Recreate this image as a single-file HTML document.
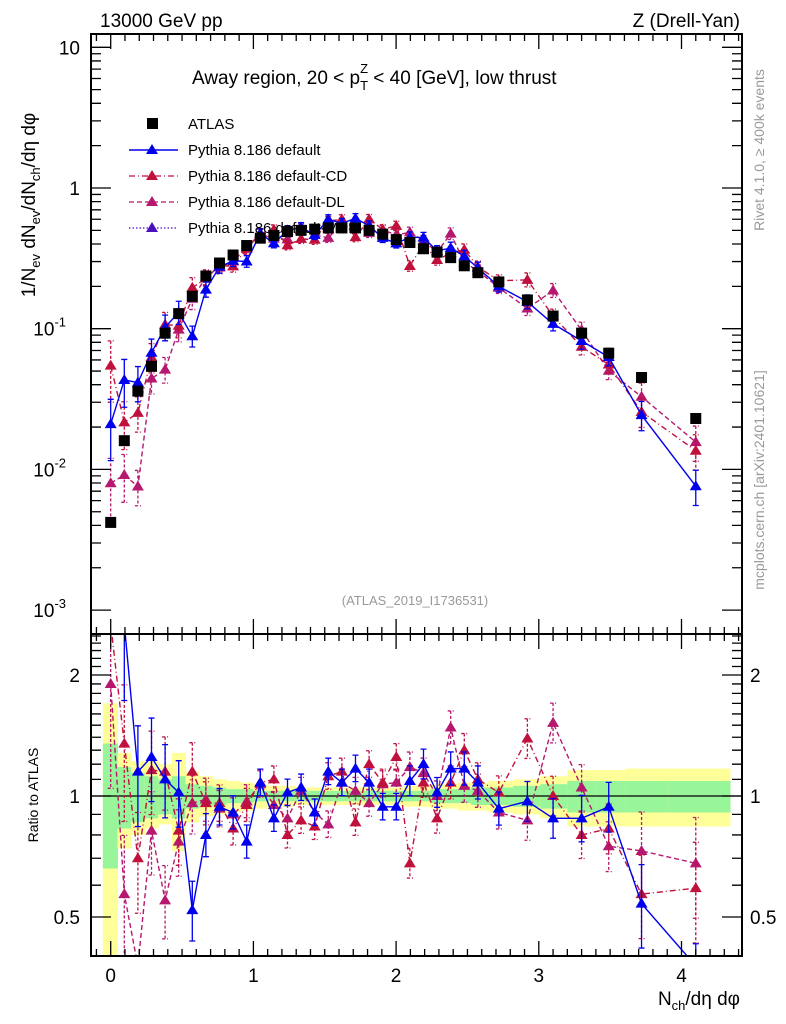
<!DOCTYPE html>
<html><head><meta charset="utf-8"><style>
html,body{margin:0;padding:0;background:#fff;overflow:hidden;width:786px;height:1024px}
svg{font-family:"Liberation Sans",sans-serif;display:block}
</style></head><body>
<svg id="chart" width="786" height="1024" viewBox="0 0 786 1024" xmlns="http://www.w3.org/2000/svg">
<defs>
<clipPath id="cm"><rect x="91" y="34" width="651" height="600"/></clipPath>
<clipPath id="cr"><rect x="91" y="634" width="651" height="322"/></clipPath>
</defs>
<g id="bands" clip-path="url(#cr)"></g>
<g id="ratio" clip-path="url(#cr)"></g>
<g id="main" clip-path="url(#cm)"></g>
<g id="axes"></g>
<text x="100" y="27" font-size="19">13000 GeV pp</text>
<text x="740" y="27" font-size="19" text-anchor="end">Z (Drell-Yan)</text>
<text x="192" y="84" font-size="19">Away region, 20 &lt; p<tspan font-size="13" dy="6">T</tspan><tspan font-size="13" dx="-8" dy="-17">Z</tspan><tspan dy="11"> &lt; 40 [GeV], low thrust</tspan></text>
<g font-size="15">
<rect x="147" y="118" width="11" height="11" fill="#000"/>
<text x="188" y="129">ATLAS</text>
<line x1="129" y1="150" x2="178" y2="150" stroke="#0000ee" stroke-width="1.5"/><path d="M152,144 l6,10 h-12z" fill="#0000ee"/>
<text x="188" y="155">Pythia 8.186 default</text>
<line x1="129" y1="176" x2="178" y2="176" stroke="#c0103c" stroke-width="1.3" stroke-dasharray="6,3,1,3"/><path d="M152,170 l6,10 h-12z" fill="#c0103c"/>
<text x="188" y="181">Pythia 8.186 default-CD</text>
<line x1="129" y1="202" x2="178" y2="202" stroke="#b5186e" stroke-width="1.3" stroke-dasharray="5,3"/><path d="M152,196 l6,10 h-12z" fill="#b5186e"/>
<text x="188" y="207">Pythia 8.186 default-DL</text>
<line x1="129" y1="228" x2="178" y2="228" stroke="#4a10c0" stroke-width="1.3" stroke-dasharray="1.5,2"/><path d="M152,222 l6,10 h-12z" fill="#4a10c0"/>
<text x="188" y="233">Pythia 8.186 default-MBR</text>
</g>
<text x="415" y="605" font-size="13" fill="#999" text-anchor="middle">(ATLAS_2019_I1736531)</text>
<text transform="translate(764,150) rotate(-90)" font-size="14" fill="#999" text-anchor="middle">Rivet 4.1.0, ≥ 400k events</text>
<text transform="translate(764,480) rotate(-90)" font-size="14" fill="#999" text-anchor="middle">mcplots.cern.ch [arXiv:2401.10621]</text>
<text transform="translate(35,205) rotate(-90)" font-size="19" text-anchor="middle">1/N<tspan font-size="13" dy="5">ev</tspan><tspan dy="-5"> dN</tspan><tspan font-size="13" dy="5">ev</tspan><tspan dy="-5">/dN</tspan><tspan font-size="13" dy="5">ch</tspan><tspan dy="-5">/dη dφ</tspan></text>
<text transform="translate(38,795) rotate(-90)" font-size="14" text-anchor="middle">Ratio to ATLAS</text>
<text x="740" y="1005" font-size="19" text-anchor="end">N<tspan font-size="13" dy="5">ch</tspan><tspan dy="-5">/dη dφ</tspan></text>
</svg>
<script>
const xs=[0,0.0953,0.1906,0.2859,0.3812,0.4765,0.5718,0.6671,0.7624,0.8577,0.953,1.0483,1.1436,1.2389,1.3342,1.4295,1.5248,1.6201,1.7154,1.8107,1.906,2.0013,2.0966,2.1919,2.2872,2.3825,2.4778,2.5731,2.72,2.92,3.1,3.3,3.49,3.72,4.1];
const atlas=[0.0042,0.016,0.036,0.054,0.093,0.128,0.17,0.237,0.293,0.334,0.39,0.44,0.46,0.49,0.5,0.51,0.52,0.52,0.52,0.5,0.47,0.43,0.41,0.37,0.35,0.32,0.28,0.25,0.215,0.16,0.123,0.093,0.067,0.045,0.023];
const ratioDefault=[5,2.7,1.15,1.25,1.1,1.02,0.52,0.8,0.94,0.91,0.77,1.08,0.88,1.02,1.05,0.91,1.15,1.08,1.17,1.08,0.94,0.94,1.09,1.2,1.02,1.17,1.17,1.08,0.93,0.97,0.88,0.88,0.94,0.54,0.33];
const ratioCD=[13,1.35,0.7,1.16,1.15,0.82,1.15,0.96,0.96,0.83,0.95,1.08,1.1,0.8,0.87,0.84,1.12,1.15,0.86,1.2,1.08,1.25,0.68,1.08,0.88,1.08,1.3,1.1,1.02,1.39,1.0,0.8,0.83,0.57,0.59];
const ratioDL=[1.9,0.57,0.21,0.82,0.55,0.77,0.96,0.98,0.93,0.9,0.97,1.07,0.95,0.88,1.03,0.91,0.85,1.08,1.03,0.96,1.07,1.08,1.18,1.14,1.0,1.48,1.06,1.03,0.91,0.87,1.52,1.05,0.75,0.73,0.68];
const mcErr=[0.5,0.4,0.3,0.25,0.22,0.2,0.18,0.13,0.11,0.1,0.1,0.08,0.08,0.08,0.08,0.08,0.08,0.08,0.08,0.08,0.08,0.08,0.09,0.09,0.09,0.1,0.1,0.1,0.1,0.12,0.12,0.14,0.15,0.25,0.3];
const yelHi=[1.7,1.28,1.22,1.22,1.2,1.28,1.15,1.12,1.1,1.09,1.08,1.07,1.06,1.06,1.05,1.05,1.05,1.05,1.05,1.05,1.05,1.05,1.06,1.06,1.07,1.07,1.08,1.08,1.09,1.1,1.12,1.16,1.16,1.17,1.17];
const yelLo=[0.3,0.74,0.8,0.83,0.85,0.73,0.86,0.89,0.9,0.91,0.92,0.93,0.94,0.94,0.95,0.95,0.95,0.95,0.95,0.95,0.95,0.95,0.94,0.94,0.93,0.93,0.92,0.92,0.91,0.9,0.88,0.84,0.84,0.84,0.84];
const grnHi=[1.35,1.18,1.14,1.12,1.1,1.12,1.07,1.06,1.05,1.04,1.04,1.03,1.03,1.03,1.03,1.03,1.03,1.03,1.03,1.03,1.03,1.03,1.03,1.03,1.04,1.04,1.04,1.05,1.05,1.06,1.07,1.09,1.09,1.09,1.09];
const grnLo=[0.66,0.83,0.86,0.88,0.9,0.88,0.93,0.94,0.95,0.96,0.96,0.97,0.97,0.97,0.97,0.97,0.97,0.97,0.97,0.97,0.97,0.97,0.97,0.97,0.96,0.96,0.96,0.95,0.95,0.94,0.93,0.91,0.91,0.91,0.91];
const xTicks=[0,1,2,3,4];
const mainTicks=[0.001,0.01,0.1,1,10];
const mainTickLabels=["10","10","10","1","10"];
const mainTickExp=["-3","-2","-1","",""];
const ratioTicks=[0.5,1,2];
const ratioTickLabels=["0.5","1","2"];

const NS="http://www.w3.org/2000/svg";
const clamp=(v,a,b)=>Math.max(a,Math.min(b,v));
const X=v=>110.7+142.7*v;
const Ym=v=>clamp(188-140.7*Math.log10(v),24,644);
const Yr=r=>clamp(796-402*Math.log10(r),624,966);
function mk(p,tag,at){const e=document.createElementNS(NS,tag);for(const k in at)e.setAttribute(k,at[k]);p.appendChild(e);return e;}
const gB=document.getElementById('bands'),gR=document.getElementById('ratio'),gM=document.getElementById('main'),gA=document.getElementById('axes');
function edges(i){const l=i==0?-0.055:(xs[i-1]+xs[i])/2;const r=i==xs.length-1?4.34:(xs[i]+xs[i+1])/2;return [l,r];}
xs.forEach((x,i)=>{const [l,r]=edges(i);
let e=mk(gB,'rect',{x:X(l),y:Yr(yelHi[i]),width:X(r)-X(l)+0.5,height:Yr(yelLo[i])-Yr(yelHi[i]),fill:'#ffff99'});


e=mk(gB,'rect',{x:X(l),y:Yr(grnHi[i]),width:X(r)-X(l)+0.5,height:Yr(grnLo[i])-Yr(grnHi[i]),fill:'#99f599'});


});
let ln=mk(gR,'line',{x1:91,x2:742,y1:Yr(1),y2:Yr(1),stroke:'#000','stroke-width':1.2});


const series=[{r:ratioDL,c:'#b5186e',d:'5,3',n:'dl'},{r:ratioCD,c:'#c0103c',d:'6,3,1,3',n:'cd'},{r:ratioDefault,c:'#0000ee',d:'',n:'default'}];
function tri(g,x,y,c){return mk(g,'path',{d:`M${x},${y-6} l6,10 h-12z`,fill:c});}
series.forEach(s=>{
 [[gR,i=>Yr(s.r[i]),i=>Yr(s.r[i]*(1+mcErr[i])),i=>Yr(s.r[i]*(1-mcErr[i]*0.9))],
  [gM,i=>Ym(atlas[i]*s.r[i]),i=>Ym(atlas[i]*s.r[i]*(1+mcErr[i])),i=>Ym(atlas[i]*s.r[i]*(1-mcErr[i]*0.9))]].forEach(([g,fy,fu,fd])=>{
  const pts=xs.map((x,i)=>X(x).toFixed(1)+','+fy(i).toFixed(1)).join(' ');
  const pl=mk(g,'polyline',{points:pts,fill:'none',stroke:s.c,'stroke-width':1.4,'stroke-dasharray':s.d});
  
  
  xs.forEach((x,i)=>{
   const eb=mk(g,'path',{d:`M${X(x)},${fu(i)}V${fd(i)}M${X(x)-3},${fu(i)}h6M${X(x)-3},${fd(i)}h6`,stroke:s.c,'stroke-width':1.3,fill:'none','stroke-dasharray':s.d?'3,2':''});
   
   
   const t=tri(g,X(x),fy(i),s.c);
   
   
  });
 });
});
xs.forEach((x,i)=>{const r=mk(gM,'rect',{x:X(x)-5.5,y:Ym(atlas[i])-5.5,width:11,height:11,fill:'#000'});

});
[[34,634],[634,956]].forEach(([t,b])=>{const f=mk(gA,'rect',{x:91,y:t,width:651,height:b-t,fill:'none',stroke:'#000','stroke-width':2});

});
let tp='';
for(let v=-0.1;v<=4.41;v+=0.1){const x=X(Math.round(v*10)/10);const maj=Math.abs(v-Math.round(v))<0.01;const L=maj?15:7;
 tp+=`M${x},634v${-L}M${x},34v${L}M${x},634v${L}M${x},956v${-L}`;}
mainTicks.forEach((d,k)=>{for(let m=1;m<10;m++){const v=d*m;const y=188-140.7*Math.log10(v);if(y<34||y>634)continue;const L=m==1?20:10;tp+=`M91,${y}h${L}M742,${y}h${-L}`;}});
for(let m=4;m<=25;m++){const v=m/10;const y=796-402*Math.log10(v);if(y<634||y>956)continue;const L=(v==0.5||v==1||v==2)?20:10;tp+=`M91,${y}h${L}M742,${y}h${-L}`;}
const tk=mk(gA,'path',{d:tp,stroke:'#000','stroke-width':1.3,fill:'none'});


xTicks.forEach(v=>{const t=mk(gA,'text',{x:X(v),y:982,'font-size':19,'text-anchor':'middle'});t.textContent=v;

});
mainTicks.forEach((v,k)=>{const t=mk(gA,'text',{x:mainTickExp[k]?66:80,y:Ym(v)+7,'font-size':19,'text-anchor':'end'});t.textContent=mainTickLabels[k];
if(mainTickExp[k]){const s=mk(t,'tspan',{'font-size':13,dy:-9});s.textContent=mainTickExp[k];}

});
ratioTicks.forEach((v,k)=>{[[80,'end'],[750,'start']].forEach(([x,a])=>{const t=mk(gA,'text',{x:x,y:Yr(v)+7,'font-size':19,'text-anchor':a});t.textContent=ratioTickLabels[k];

});});
</script>
</body></html>
